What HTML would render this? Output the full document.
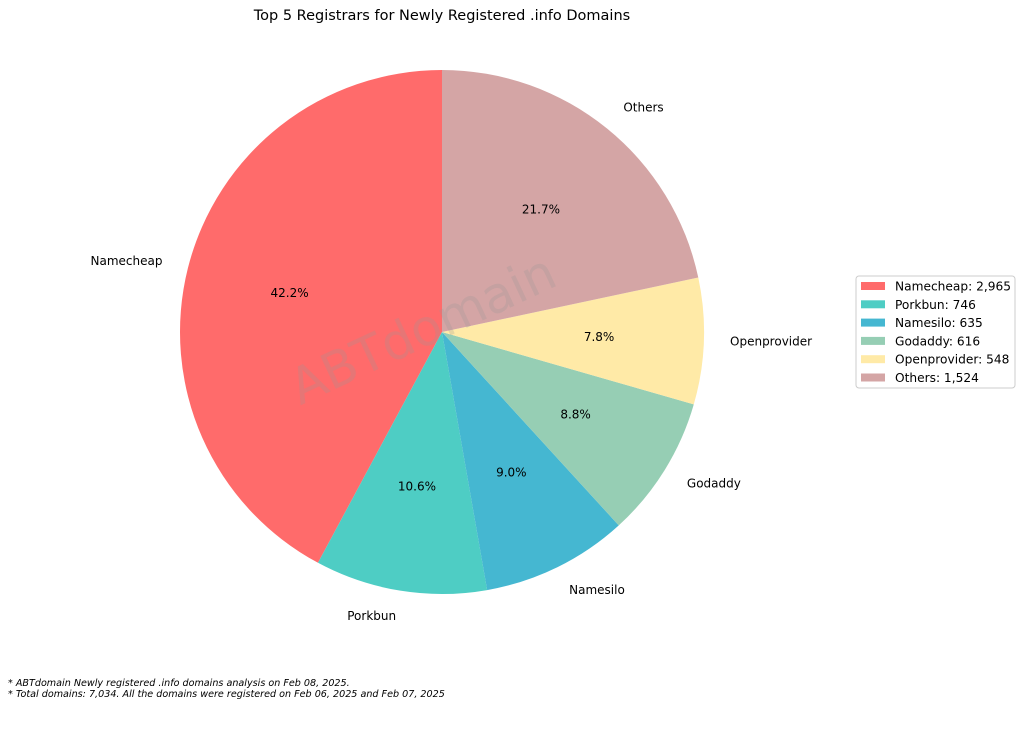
<!DOCTYPE html>
<html><head><meta charset="utf-8"><style>
body{margin:0;background:#fff;}
svg{display:block;font-family:"DejaVu Sans","Liberation Sans",sans-serif;}
</style></head><body>
<svg id="c" width="1024" height="731">
<text x="442" y="20" text-anchor="middle" font-size="14.5">Top 5 Registrars for Newly Registered .info Domains</text>
<g id="pie"></g>
<text x="430" y="345" text-anchor="middle" font-size="50" fill="#999" fill-opacity="0.25" transform="rotate(-25 430 345)">ABTdomain</text>
<g id="legend"><rect x="856" y="276" width="159" height="112" rx="3" fill="#fff" stroke="#ccc"/></g>
<text x="8" y="686" font-size="9.6" font-style="italic">* ABTdomain Newly registered .info domains analysis on Feb 08, 2025.</text>
<text x="8" y="697" font-size="9.6" font-style="italic">* Total domains: 7,034. All the domains were registered on Feb 06, 2025 and Feb 07, 2025</text>
</svg>
<script>
const categories=["Namecheap","Porkbun","Namesilo","Godaddy","Openprovider","Others"];
const values=[2965,746,635,616,548,1524];
const colors=["#FF6B6B","#4ECDC4","#45B7D1","#96CEB4","#FFEAA7","#D4A5A5"];
const NS="http://www.w3.org/2000/svg";
const cx=442,cy=332,r=262;
const total=values.reduce((a,b)=>a+b,0);
const pie=document.getElementById('pie'),leg=document.getElementById('legend');
function mk(t,a,p){const e=document.createElementNS(NS,t);for(const k in a)e.setAttribute(k,a[k]);p.appendChild(e);return e;}
let ang=90;
values.forEach((v,i)=>{
 const sweep=v/total*360,a0=ang*Math.PI/180,a1=(ang+sweep)*Math.PI/180;
 const x0=cx+r*Math.cos(a0),y0=cy-r*Math.sin(a0),x1=cx+r*Math.cos(a1),y1=cy-r*Math.sin(a1);
 const p=mk('path',{d:`M${cx},${cy}L${x0},${y0}A${r},${r} 0 ${sweep>180?1:0} 0 ${x1},${y1}Z`,fill:colors[i]},pie);
 
 
 const m=(ang+sweep/2)*Math.PI/180,c=Math.cos(m),s=Math.sin(m);
 const lt=mk('text',{x:cx+1.1*r*c,y:cy-1.1*r*s+3.5,'text-anchor':c<-0.05?'end':(c>0.05?'start':'middle'),'font-size':12},pie);
 lt.textContent=categories[i];
 
 
 const pt=mk('text',{x:cx+0.6*r*c,y:cy-0.6*r*s+3.5,'text-anchor':'middle','font-size':12},pie);
 pt.textContent=(v/total*100).toFixed(1)+'%';
 
 
 const ly=286+i*18.3;
 const sw=mk('rect',{x:861,y:ly-4,width:24,height:8,fill:colors[i]},leg);
 
 
 const t=mk('text',{x:895,y:ly+4.5,'font-size':12.2},leg);
 t.textContent=categories[i]+': '+v.toLocaleString('en-US');
 
 
 ang+=sweep;
});
</script>
</body></html>
